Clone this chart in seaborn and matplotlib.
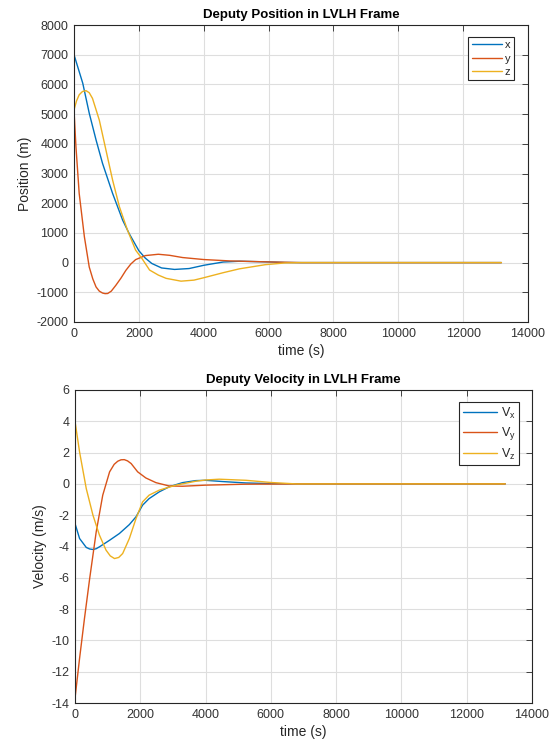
import numpy as np
import pandas as pd
import matplotlib
matplotlib.use("Agg")
import matplotlib.pyplot as plt
import seaborn as sns

# ---------------- data ----------------
t_x = [0, 270, 470, 680, 880, 1190, 1500, 1700, 2000, 2200, 2400, 2700, 3100, 3550, 4000, 4600, 5100, 6000, 6500, 7000, 13180]
x_pos = [7000, 6040, 5030, 4130, 3340, 2330, 1430, 980, 400, 150, -30, -180, -230, -200, -91, 20, 46, 23, 5, 0, 0]

t_y = [0, 60, 160, 320, 470, 580, 680, 780, 880, 960, 1040, 1150, 1290, 1450, 1600, 1750, 1900, 2200, 2600, 2950, 3350, 4000, 4800, 6000, 7000, 13180]
y_pos = [5140, 3900, 2330, 870, -150, -550, -820, -960, -1025, -1045, -1040, -960, -765, -520, -260, -50, 100, 236, 281, 245, 170, 103, 57, 23, 0, 0]

t_z = [0, 80, 160, 260, 370, 470, 570, 780, 985, 1190, 1400, 1650, 1900, 2100, 2330, 2600, 2840, 3300, 3700, 4000, 4600, 5100, 5900, 6500, 7000, 13180]
z_pos = [5140, 5450, 5650, 5760, 5790, 5720, 5530, 4800, 3790, 2780, 1880, 1090, 420, 130, -250, -420, -530, -625, -590, -510, -340, -210, -70, -12, 0, 0]

t_vx = [0, 140, 345, 450, 550, 650, 750, 1060, 1360, 1665, 1870, 2070, 2270, 2580, 2880, 3290, 3700, 4000, 4520, 5240, 6000, 7000, 13180]
vx = [-2.53, -3.49, -4.06, -4.16, -4.19, -4.14, -4.02, -3.6, -3.17, -2.6, -2.1, -1.36, -0.94, -0.51, -0.19, 0.08, 0.21, 0.23, 0.15, 0.06, 0.02, 0.0, 0.0]

t_vy = [0, 140, 290, 450, 650, 850, 1060, 1200, 1310, 1410, 1510, 1610, 1720, 1920, 2170, 2480, 2880, 3290, 4000, 5200, 7000, 13180]
vy = [-13.7, -11.15, -8.6, -6.04, -3.06, -0.72, 0.77, 1.25, 1.45, 1.54, 1.55, 1.47, 1.3, 0.77, 0.38, 0.08, -0.13, -0.15, -0.08, -0.02, 0.0, 0.0]

t_vz = [0, 140, 345, 550, 750, 950, 1080, 1210, 1340, 1460, 1665, 1870, 2070, 2270, 2580, 3090, 3700, 4000, 4420, 5240, 6000, 6770, 13180]
vz = [4.0, 2.04, -0.3, -2.0, -3.28, -4.23, -4.6, -4.77, -4.7, -4.45, -3.49, -2.21, -1.15, -0.72, -0.4, -0.08, 0.17, 0.25, 0.3, 0.23, 0.09, 0.0, 0.0]

pos_labels = ["x", "y", "z"]
vel_labels = ["V$_x$", "V$_y$", "V$_z$"]
colors = ["#0072BD", "#D95319", "#EDB120"]

x_ticks = list(range(0, 14001, 2000))
pos_ticks = list(range(-2000, 8001, 1000))
vel_ticks = list(range(-14, 7, 2))

# ---------------- frames ----------------
pos_df = pd.concat([
    pd.DataFrame({"time": t_x, "value": x_pos, "series": pos_labels[0]}),
    pd.DataFrame({"time": t_y, "value": y_pos, "series": pos_labels[1]}),
    pd.DataFrame({"time": t_z, "value": z_pos, "series": pos_labels[2]}),
], ignore_index=True)
vel_df = pd.concat([
    pd.DataFrame({"time": t_vx, "value": vx, "series": vel_labels[0]}),
    pd.DataFrame({"time": t_vy, "value": vy, "series": vel_labels[1]}),
    pd.DataFrame({"time": t_vz, "value": vz, "series": vel_labels[2]}),
], ignore_index=True)

sns.set_theme(style="white")
plt.rcParams["font.family"] = ["Liberation Sans", "DejaVu Sans"]
plt.rcParams["mathtext.fontset"] = "custom"
plt.rcParams["mathtext.rm"] = "Liberation Sans"
plt.rcParams["mathtext.it"] = "Liberation Sans"
plt.rcParams["axes.unicode_minus"] = False

fig = plt.figure(figsize=(5.52, 7.45), dpi=100)
fig.patch.set_facecolor("white")
ax1 = fig.add_axes([74/552, 1-322/745, (528-74)/552, (322-25)/745])
ax2 = fig.add_axes([75/552, 1-703/745, (532-75)/552, (703-390)/745])

def style(ax, yticks, ylim, title, ylabel, labels, anchor, fs, lspace):
    ax.set_xlim(0, 14000)
    ax.set_ylim(*ylim)
    ax.set_xticks(x_ticks)
    ax.set_yticks(yticks)
    ax.grid(True, color="#DEDEDE", linewidth=0.8)
    ax.set_axisbelow(True)
    for s in ax.spines.values():
        s.set_color("#262626")
        s.set_linewidth(0.8)
        s.set_visible(True)
    ax.tick_params(direction="in", length=4, width=0.6, color="#262626",
                   top=True, right=True, labelsize=9, labelcolor="#333333", pad=4)
    ax.set_title(title, fontsize=9.5, fontweight="bold", color="black", pad=5)
    ax.set_xlabel("time (s)", fontsize=10, color="#262626", labelpad=3)
    ax.set_ylabel(ylabel, fontsize=10, color="#262626", labelpad=3)
    handles = ax.get_legend().legend_handles
    ax.get_legend().remove()
    leg = ax.legend(handles, labels, loc="upper right", bbox_to_anchor=anchor,
                    borderaxespad=0, frameon=True, fancybox=False, fontsize=fs,
                    handlelength=2.7, handletextpad=0.3, borderpad=0.3,
                    labelspacing=lspace, framealpha=1)
    leg.get_frame().set_edgecolor("#262626")
    leg.get_frame().set_linewidth(0.8)
    for t in leg.get_texts():
        t.set_color("#262626")

sns.lineplot(data=pos_df, x="time", y="value", hue="series", palette=colors,
             estimator=None, linewidth=1.0, ax=ax1)
sns.lineplot(data=vel_df, x="time", y="value", hue="series", palette=colors,
             estimator=None, linewidth=1.0, ax=ax2)

style(ax1, pos_ticks, (-2000, 8000), "Deputy Position in LVLH Frame", "Position (m)",
      pos_labels, (0.969, 0.960), 8, 0.3)
style(ax2, vel_ticks, (-14, 6), "Deputy Velocity in LVLH Frame", "Velocity (m/s)",
      vel_labels, (0.972, 0.962), 9, 0.35)

fig.savefig("out.png", dpi=100, facecolor="white")
